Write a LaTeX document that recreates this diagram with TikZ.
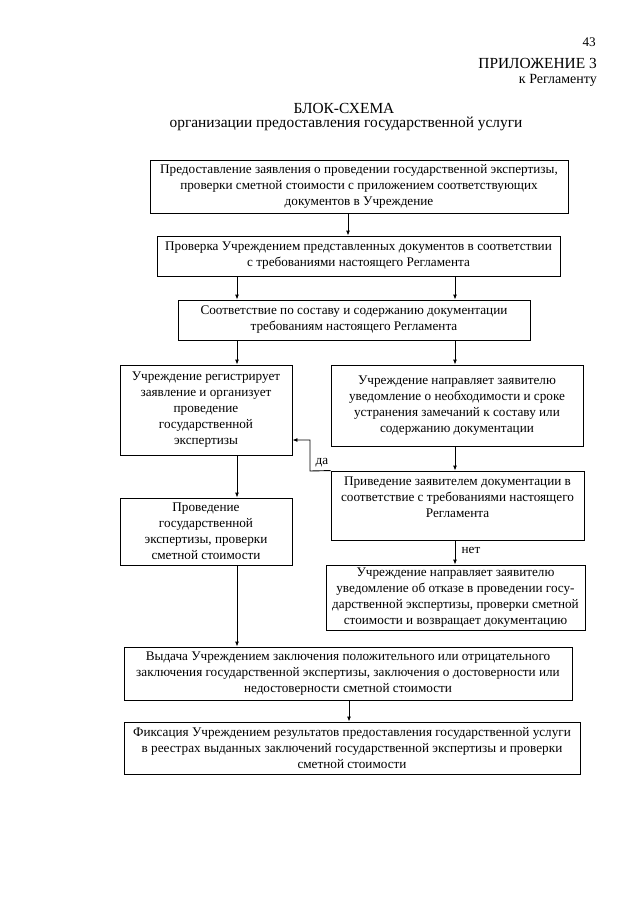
\documentclass[tikz,border=0pt]{standalone}
\usepackage{fontspec}
\setmainfont{Liberation Serif}
\usetikzlibrary{arrows.meta}
\tikzset{
  box/.style={draw, line width=0.9pt, align=center, inner sep=2pt,
    font=\fontsize{13.2}{16}\selectfont},
  arr/.style={line width=0.9pt, -{Latex[length=5pt,width=4pt]}},
  lbl/.style={font=\fontsize{13.2}{16}\selectfont, inner sep=0pt},
  big/.style={font=\fontsize{15.4}{17}\selectfont, inner sep=0pt},
}
\begin{document}
\begin{tikzpicture}[x=1pt,y=-1pt]
\useasboundingbox[fill=white] (0,0) rectangle (640,905);
% header
\node[lbl, anchor=east] (pg) at (596,42) {43};
\node[big, anchor=east] (app) at (597,63) {ПРИЛОЖЕНИЕ 3};
\node[lbl, anchor=east, font=\fontsize{14}{16}\selectfont] (reg) at (597,80) {к Регламенту};
\node[big] (t1) at (344,108) {БЛОК-СХЕМА};
\node[big] (t2) at (346,124) {организации предоставления государственной услуги};
% boxes
\node[box, minimum width=418pt, minimum height=53pt] (b1) at (359,186.5)
 {Предоставление заявления о проведении государственной экспертизы,\\проверки сметной стоимости с приложением соответствующих\\документов в Учреждение};
\node[box, minimum width=403pt, minimum height=40pt] (b2) at (358.5,256)
 {Проверка Учреждением представленных документов в соответствии\\с требованиями настоящего Регламента};
\node[box, minimum width=352pt, minimum height=40pt] (b3) at (354,320)
 {Соответствие по составу и содержанию документации\\требованиям настоящего Регламента};
\node[box, minimum width=172pt, minimum height=90pt] (b4) at (206,410)
 {Учреждение регистрирует\\заявление и организует\\проведение\\государственной\\экспертизы};
\node[box, minimum width=252pt, minimum height=81pt] (b5) at (457,405.5)
 {Учреждение направляет заявителю\\уведомление о необходимости и сроке\\устранения замечаний к составу или\\содержанию документации};
\node[box, minimum width=253pt, minimum height=69pt] (b6) at (457.5,505.5)
 {Приведение заявителем документации в\\соответствие с требованиями настоящего\\Регламента\\\mbox{}};
\node[box, minimum width=172pt, minimum height=67pt] (b7) at (206,531.5)
 {Проведение\\государственной\\экспертизы, проверки\\сметной стоимости};
\node[box, minimum width=259pt, minimum height=65pt] (b8) at (455.5,597.5)
 {Учреждение направляет заявителю\\уведомление об отказе в проведении госу-\\дарственной экспертизы, проверки сметной\\стоимости и возвращает документацию};
\node[box, minimum width=448pt, minimum height=53pt] (b9) at (348,673.5)
 {Выдача Учреждением заключения положительного или отрицательного\\заключения государственной экспертизы, заключения о достоверности или\\недостоверности сметной стоимости};
\node[box, minimum width=456pt, minimum height=52pt] (b10) at (352,748)
 {Фиксация Учреждением результатов предоставления государственной услуги\\в реестрах выданных заключений государственной экспертизы и проверки\\сметной стоимости};
% connectors
\coordinate (cA) at (348,0);
\coordinate (cL) at (237,0);
\coordinate (cR) at (455,0);
\coordinate (cB) at (349,0);
\draw[arr] (b1.south -| cA) -- (b2.north -| cA);
\draw[arr] (b2.south -| cL) -- (b3.north -| cL);
\draw[arr] (b2.south -| cR) -- (b3.north -| cR);
\draw[arr] (b3.south -| cL) -- (b4.north -| cL);
\draw[arr] (b3.south -| cR) -- (b5.north -| cR);
\draw[arr] (b4.south -| cL) -- (b7.north -| cL);
\draw[arr] (b5.south -| cR) -- (b6.north -| cR);
\draw[arr] (b6.south -| cR) -- (b8.north -| cR);
\draw[arr] (b7.south -| cL) -- (b9.north -| cL);
\draw[arr] (b9.south -| cB) -- (b10.north -| cB);
\coordinate (fb1) at (310,471);
\coordinate (fb2) at (310,440);
\draw[arr] (b6.north west) -- (fb1) -- (fb2) -- (b4.east |- fb2);
\node[lbl] (da) at (322,463) {да};
\node[lbl] (net) at (471,550) {нет};
\end{tikzpicture}
\end{document}
